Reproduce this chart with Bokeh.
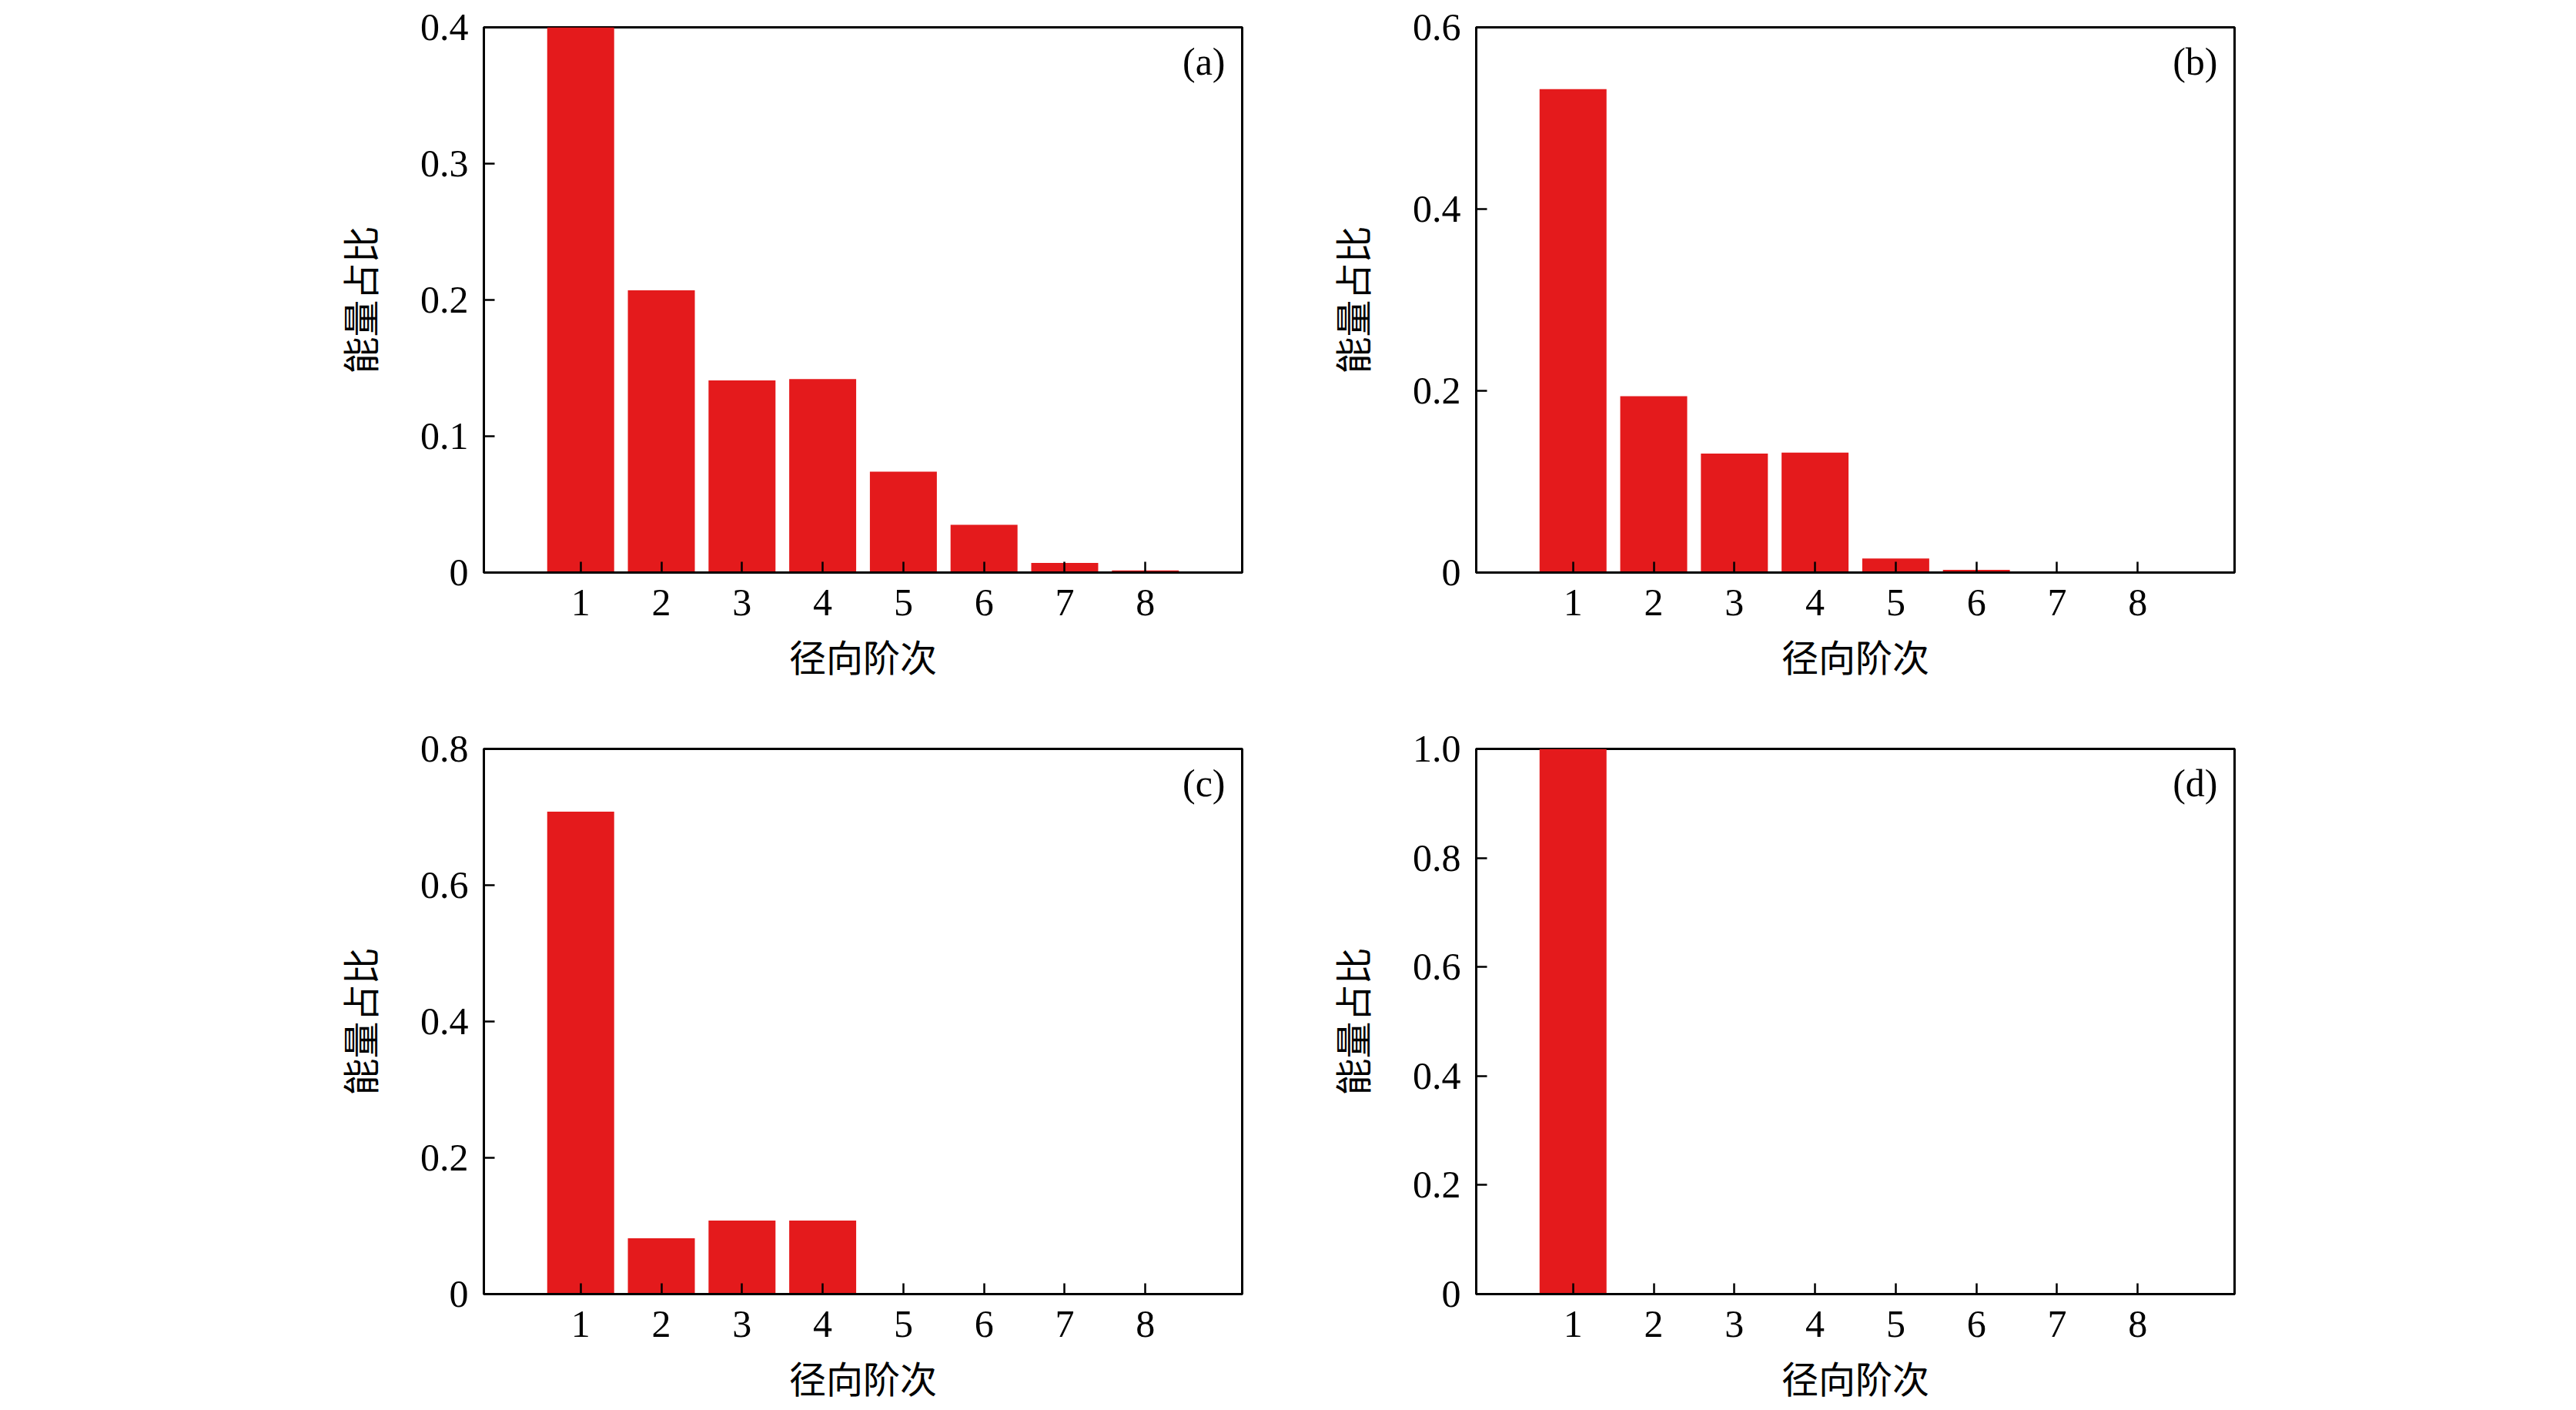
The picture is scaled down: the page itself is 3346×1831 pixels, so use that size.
from bokeh.plotting import figure
from bokeh.models import Range1d, FixedTicker, Label
from bokeh.layouts import column, row
from bokeh.embed import file_html
from bokeh.resources import INLINE

# ---------------- data ----------------
orders = [1, 2, 3, 4, 5, 6, 7, 8]
x_tick_labels = ["1", "2", "3", "4", "5", "6", "7", "8"]

energy_a = [0.400, 0.207, 0.141, 0.142, 0.074, 0.035, 0.007, 0.0016]
energy_b = [0.532, 0.194, 0.131, 0.132, 0.0155, 0.003, 0.0004, 0.0001]
energy_c = [0.708, 0.082, 0.108, 0.108, 0.0, 0.0, 0.0, 0.0]
energy_d = [1.000, 0.0, 0.0, 0.0, 0.0, 0.0, 0.0, 0.0]

yticks_a = [0, 0.1, 0.2, 0.3, 0.4]
ylabels_a = ["0", "0.1", "0.2", "0.3", "0.4"]
yticks_b = [0, 0.2, 0.4, 0.6]
ylabels_b = ["0", "0.2", "0.4", "0.6"]
yticks_c = [0, 0.2, 0.4, 0.6, 0.8]
ylabels_c = ["0", "0.2", "0.4", "0.6", "0.8"]
yticks_d = [0, 0.2, 0.4, 0.6, 0.8, 1.0]
ylabels_d = ["0", "0.2", "0.4", "0.6", "0.8", "1.0"]

panel_tags = ["(a)", "(b)", "(c)", "(d)"]
x_title = "径向阶次"
y_title = "能量占比"

BAR_COLOR = "#E41A1C"
SERIF = "Liberation Serif"
CJK = "Noto Sans CJK SC"

FRAME_W = 985
FRAME_H = 708
X0, X1 = -0.2, 9.2


def make_panel(values, yticks, ylabels, tag, borders):
    left, right, top, bottom = borders
    ymax = yticks[-1]
    p = figure(
        frame_width=FRAME_W, frame_height=FRAME_H,
        x_range=Range1d(X0, X1), y_range=Range1d(0, ymax),
        output_backend="svg", toolbar_location=None,
        min_border_left=left, min_border_right=right,
        min_border_top=top, min_border_bottom=bottom,
    )
    p.vbar(x=orders, top=values, bottom=0, width=0.83,
           fill_color=BAR_COLOR, line_color=None)

    p.xgrid.visible = False
    p.ygrid.visible = False
    p.outline_line_color = "black"
    p.outline_line_width = 3
    p.background_fill_color = "white"
    p.border_fill_color = "white"

    p.xaxis.ticker = FixedTicker(ticks=orders)
    p.xaxis.major_label_overrides = {o: lab for o, lab in zip(orders, x_tick_labels)}
    p.yaxis.ticker = FixedTicker(ticks=yticks)
    p.yaxis.major_label_overrides = {t: lab for t, lab in zip(yticks, ylabels)}

    for ax in (p.xaxis[0], p.yaxis[0]):
        ax.axis_line_color = "black"
        ax.axis_line_width = 3
        ax.major_tick_line_color = "black"
        ax.major_tick_line_width = 2.5
        ax.major_tick_in = 14
        ax.major_tick_out = 0
        ax.minor_tick_line_color = None
        ax.major_label_text_font = SERIF
        ax.major_label_text_font_size = "50px"
        ax.major_label_text_color = "black"
        ax.axis_label_text_font = CJK
        ax.axis_label_text_font_size = "48px"
        ax.axis_label_text_font_style = "normal"
        ax.axis_label_text_color = "black"

    p.xaxis.axis_label = x_title
    p.yaxis.axis_label = y_title
    p.xaxis.major_label_standoff = 22
    p.yaxis.major_label_standoff = 20
    p.xaxis.axis_label_standoff = 14
    p.yaxis.axis_label_standoff = 42

    # panel tag in the upper right corner
    dx = 22 * (X1 - X0) / FRAME_W
    dy = 44 * ymax / FRAME_H
    p.add_layout(Label(x=X1 - dx, y=ymax - dy, text=tag,
                       text_align="right", text_baseline="middle",
                       text_font=SERIF, text_font_size="50px",
                       text_color="black"))
    return p


pa = make_panel(energy_a, yticks_a, ylabels_a, panel_tags[0], (628, 10, 35, 200))
pb = make_panel(energy_b, yticks_b, ylabels_b, panel_tags[1], (294, 300, 35, 200))
pc = make_panel(energy_c, yticks_c, ylabels_c, panel_tags[2], (628, 10, 29, 110))
pd = make_panel(energy_d, yticks_d, ylabels_d, panel_tags[3], (294, 300, 29, 110))

layout = column(row(pa, pb), row(pc, pd))

with open("out.html", "w") as f:
    f.write(file_html(layout, INLINE))
